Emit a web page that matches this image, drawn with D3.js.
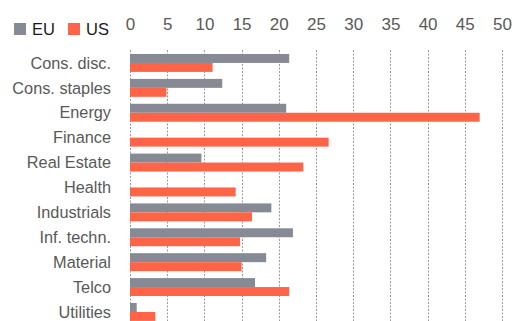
<!DOCTYPE html>
<html>
<head>
<meta charset="utf-8">
<script src="https://cdn.jsdelivr.net/npm/d3@7"></script>
<style>
  body { margin: 0; background: #fff; }
  text { font-family: "Liberation Sans", Arial, sans-serif; }
</style>
</head>
<body>
<div id="app"></div>
<script>
const sectors = ['Cons. disc.', 'Cons. staples', 'Energy', 'Finance', 'Real Estate', 'Health',
    'Industrials', 'Inf. techn.', 'Material', 'Telco', 'Utilities'];
const euValues = [21.4, 12.4, 21.0, 0, 9.6, 0, 19.0, 21.9, 18.3, 16.8, 0.9];
const usValues = [11.1, 4.9, 47.0, 26.7, 23.3, 14.2, 16.4, 14.8, 15.0, 21.4, 3.4];
const seriesNames = ['EU', 'US'];
const tickValues = [0, 5, 10, 15, 20, 25, 30, 35, 40, 45, 50];

const colors = { EU: '#858a95', US: '#ff6449' };

const width = 517;
const height = 321;

const svg = d3.select('#app')
    .append('svg')
    .attr('width', width)
    .attr('height', height);

const x = d3.scaleLinear()
    .domain([0, 50])
    .range([130, 502]);

const y = d3.scaleBand()
    .domain(sectors)
    .range([50.5, 50.5 + 24.9 * 11])
    .paddingInner(0.28)
    .paddingOuter(0.14);

const sub = d3.scaleBand()
    .domain(seriesNames)
    .range([0, y.bandwidth()]);

// grid
svg.append('g')
    .selectAll('line')
    .data(tickValues)
    .enter()
    .append('line')
    .attr('x1', d => Math.round(x(d)) + 0.5)
    .attr('x2', d => Math.round(x(d)) + 0.5)
    .attr('y1', 50)
    .attr('y2', height)
    .attr('stroke', '#9a9a9a')
    .attr('stroke-dasharray', '2,1.5');

// top axis
const axis = svg.append('g')
    .attr('transform', 'translate(0, 30)')
    .call(d3.axisTop(x).tickValues(tickValues).tickSize(0).tickPadding(0));
axis.select('.domain').remove();
axis.selectAll('text')
    .attr('fill', '#595959')
    .style('font-size', '17px')
    .style('font-family', '"Liberation Sans", Arial, sans-serif');

// bars
const rows = sectors.map((s, i) => ({ sector: s, EU: euValues[i], US: usValues[i] }));

const groups = svg.append('g')
    .selectAll('g')
    .data(rows)
    .enter()
    .append('g')
    .attr('transform', d => 'translate(0,' + y(d.sector) + ')');

groups.selectAll('rect')
    .data(d => seriesNames.map(k => ({ key: k, value: d[k] })))
    .enter()
    .append('rect')
    .attr('x', x(0))
    .attr('y', d => sub(d.key))
    .attr('width', d => x(d.value) - x(0))
    .attr('height', sub.bandwidth())
    .attr('fill', d => colors[d.key]);

// category labels
svg.append('g')
    .selectAll('text')
    .data(sectors)
    .enter()
    .append('text')
    .text(d => d)
    .attr('x', 111)
    .attr('y', d => y(d) + y.bandwidth() / 2)
    .attr('dy', '0.35em')
    .attr('text-anchor', 'end')
    .attr('fill', '#595959')
    .style('font-size', '16.3px');

// legend
const legend = svg.append('g')
    .selectAll('g')
    .data(seriesNames)
    .enter()
    .append('g')
    .attr('transform', (d, i) => 'translate(' + (14 + i * 54) + ', 23)');

legend.append('rect')
    .attr('width', 12)
    .attr('height', 12)
    .attr('fill', d => colors[d]);

legend.append('text')
    .text(d => d)
    .attr('x', 18)
    .attr('y', 12)
    .attr('fill', '#1a1a1a')
    .style('font-size', '16.5px');
</script>
</body>
</html>
